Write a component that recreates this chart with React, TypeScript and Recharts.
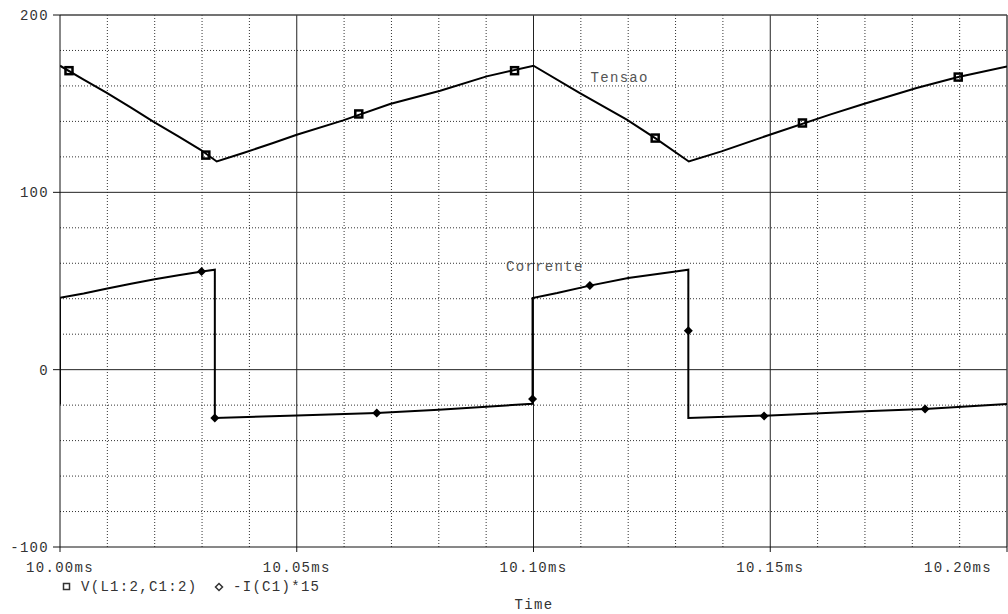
import React from 'react';
import {
  ComposedChart,
  Line,
  Scatter,
  XAxis,
  YAxis,
  ReferenceLine,
  ReferenceDot,
} from 'recharts';

// Tensao: V(L1:2,C1:2)
const tensaoTime = [
  10.0, 10.005, 10.0098, 10.015, 10.0197, 10.025, 10.0297, 10.0331, 10.0387, 10.045, 10.05, 10.0598,
  10.0697, 10.0803, 10.0901, 10.1, 10.1098, 10.1197, 10.1257, 10.1328, 10.1397, 10.1499, 10.1626,
  10.1697, 10.1809, 10.1897, 10.2,
];
const tensaoValues = [
  171.4, 163.5, 156.2, 147.8, 139.9, 131.5, 124, 117.4, 122.2, 127.8, 132.5, 140.6, 149.8, 157.3, 165.4,
  171.4, 156, 141, 130.6, 117.4, 123.1, 132.5, 143.8, 149.8, 158.8, 165, 171,
];

// Corrente: -I(C1)*15
const correnteTime = [
  10.0, 10.0, 10.005, 10.01, 10.015, 10.02, 10.025, 10.03, 10.0327, 10.0327, 10.05, 10.0669, 10.08,
  10.0998, 10.0998, 10.105, 10.1119, 10.12, 10.13, 10.1327, 10.1327, 10.15, 10.17, 10.1827, 10.2,
];
const correnteValues = [
  -19.7, 40.6, 43, 45.8, 48.5, 51, 53.3, 55.4, 56.4, -27.2, -25.8, -24.4, -22.6, -19.2, 40.4, 43.2, 47.4,
  51.7, 55.4, 56.4, -27.2, -25.8, -23.5, -22.2, -19.4,
];

// marker positions
const tensaoMarkT = [10.0019, 10.0308, 10.0631, 10.0960, 10.1257, 10.1568, 10.1897];
const tensaoMarkV = [168.6, 121, 144.2, 168.6, 130.6, 139.1, 165];
const correnteMarkT = [10.0299, 10.0327, 10.0669, 10.0998, 10.1119, 10.1327, 10.1487, 10.1827];
const correnteMarkV = [55.4, -27.2, -24.4, -16.5, 47.4, 22, -26.1, -22.2];

const xTicks = [10.0, 10.05, 10.1, 10.15, 10.2];
const yTicks = [-100, 0, 100, 200];
const xMajor = [10.05, 10.1, 10.15];
const xMinor = [10.01, 10.02, 10.03, 10.04, 10.06, 10.07, 10.08, 10.09, 10.11, 10.12, 10.13, 10.14, 10.16, 10.17, 10.18, 10.19];
const yMajor = [0, 100];
const yMinor = [-80, -60, -40, -20, 20, 40, 60, 80, 120, 140, 160, 180];

const zip = (ts: number[], vs: number[]) => ts.map((t, i) => ({ t, v: vs[i] }));
const tensaoData = zip(tensaoTime, tensaoValues);
const correnteData = zip(correnteTime, correnteValues);
const tensaoMarks = zip(tensaoMarkT, tensaoMarkV);
const correnteMarks = zip(correnteMarkT, correnteMarkV);

const FONT = '"Liberation Mono", "DejaVu Sans Mono", monospace';
const textStyle = { fontFamily: FONT, fontSize: 14, letterSpacing: 1.3, fill: '#333' };

const SquareMark = (props: any) => {
  const { cx, cy } = props;
  return <rect x={cx - 3.5} y={cy - 3.5} width={7} height={7} fill="none" stroke="#000" strokeWidth={2.5} />;
};

const DiamondMark = (props: any) => {
  const { cx, cy } = props;
  return <path d={`M${cx},${cy - 4.5}L${cx + 4.5},${cy}L${cx},${cy + 4.5}L${cx - 4.5},${cy}Z`} fill="#000" />;
};

const XTick = (props: any) => {
  const { x, y, payload } = props;
  const last = payload.value >= 10.2;
  return (
    <text x={last ? x - 2 : x} y={y + 18} textAnchor={last ? 'end' : 'middle'} style={textStyle}>
      {payload.value.toFixed(2) + 'ms'}
    </text>
  );
};

const YTick = (props: any) => {
  const { x, y, payload } = props;
  return (
    <text x={x - 2} y={y + 5} textAnchor="end" style={textStyle}>
      {payload.value}
    </text>
  );
};

const App: React.FC = () => {
  return (
    <div style={{ position: 'absolute', left: 0, top: 0, width: 1008, height: 614, background: '#fff' }}>
      <ComposedChart width={1008} height={614} margin={{ top: 15, right: 1, left: 0, bottom: 0 }}>
        <XAxis
          type="number"
          dataKey="t"
          domain={[10.0, 10.2]}
          ticks={xTicks}
          allowDataOverflow
          height={67}
          stroke="#111"
          tickSize={5}
          tick={<XTick />}
        />
        <YAxis
          type="number"
          dataKey="v"
          domain={[-100, 200]}
          ticks={yTicks}
          allowDataOverflow
          width={60}
          stroke="#111"
          tickSize={7}
          tick={<YTick />}
        />
        {yMinor.map((v) => (
          <ReferenceLine key={`ym${v}`} y={v} stroke="#333" strokeDasharray="1 2" />
        ))}
        {xMinor.map((t) => (
          <ReferenceLine key={`xm${t}`} x={t} stroke="#333" strokeDasharray="1 2" />
        ))}
        {yMajor.map((v) => (
          <ReferenceLine key={`yM${v}`} y={v} stroke="#222" />
        ))}
        {xMajor.map((t) => (
          <ReferenceLine key={`xM${t}`} x={t} stroke="#222" />
        ))}
        <ReferenceLine y={200} stroke="#444" strokeWidth={1.5} />
        <ReferenceLine x={10.2} stroke="#444" strokeWidth={1.5} />

        <Line
          data={tensaoData}
          dataKey="v"
          type="linear"
          stroke="#000"
          strokeWidth={2}
          dot={false}
          isAnimationActive={false}
        />
        <Line
          data={correnteData}
          dataKey="v"
          type="linear"
          stroke="#000"
          strokeWidth={2}
          dot={false}
          isAnimationActive={false}
        />
        <Scatter data={tensaoMarks} dataKey="v" shape={<SquareMark />} isAnimationActive={false} />
        <Scatter data={correnteMarks} dataKey="v" shape={<DiamondMark />} isAnimationActive={false} />

        <ReferenceDot
          x={10.1182}
          y={164.8}
          r={0}
          stroke="none"
          label={{ value: 'Tensao', position: 'center', style: { ...textStyle, fill: '#555' } }}
        />
        <ReferenceDot
          x={10.1024}
          y={58.3}
          r={0}
          stroke="none"
          label={{ value: 'Corrente', position: 'center', style: { ...textStyle, fill: '#555' } }}
        />
      </ComposedChart>
      <svg width={1008} height={614} style={{ position: 'absolute', left: 0, top: 0, pointerEvents: 'none' }}>
        <rect x={63.5} y={583.5} width={6} height={6} fill="none" stroke="#333" strokeWidth={1.5} />
        <text x={81} y={591} style={textStyle}>V(L1:2,C1:2)</text>
        <path d="M219,583.5L222.5,587L219,590.5L215.5,587Z" fill="none" stroke="#333" strokeWidth={1.5} />
        <text x={233} y={591} style={textStyle}>-I(C1)*15</text>
        <text x={534} y={609} textAnchor="middle" style={textStyle}>Time</text>
      </svg>
    </div>
  );
};

export default App;
